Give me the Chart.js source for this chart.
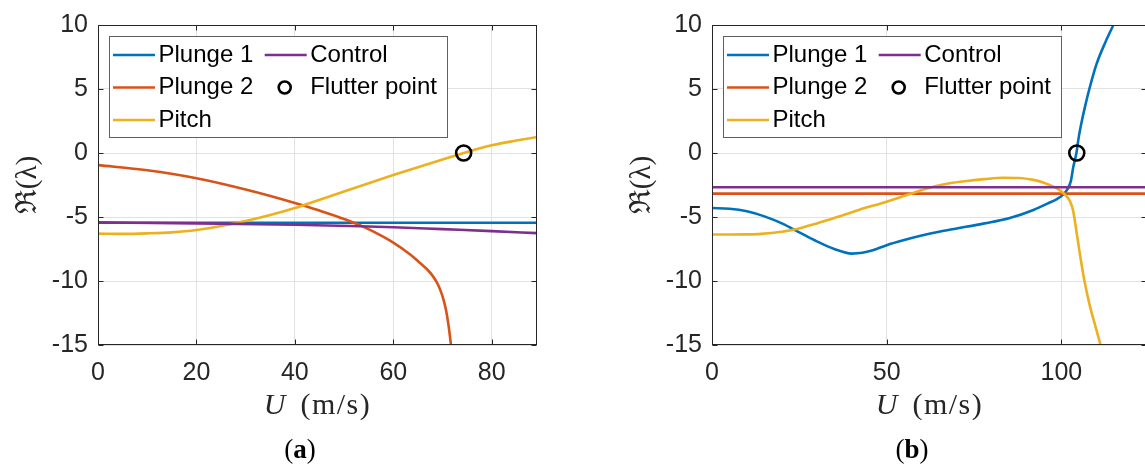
<!DOCTYPE html>
<html>
<head>
<meta charset="utf-8">
<title>Flutter eigenvalues</title>
<script src="https://cdn.jsdelivr.net/npm/chart.js@4.4.1/dist/chart.umd.min.js"></script>
<style>
    html, body { margin: 0; padding: 0; background: #fff; width: 1145px; height: 466px; overflow: hidden; }
    .panel { position: absolute; top: 0; height: 440px; }
    #panelA { left: 0; width: 560px; }
    #panelB { left: 585px; width: 575px; }
    .caption { position: absolute; top: 434px; line-height: 30px; font-family: "Liberation Serif", serif; font-size: 27px; color: #000; transform: translateX(-50%); }
</style>
</head>
<body>
<div class="panel" id="panelA"><canvas id="chartA"></canvas></div>
<div class="panel" id="panelB"><canvas id="chartB"></canvas></div>
<div class="caption" style="left:300px">(<b>a</b>)</div>
<div class="caption" style="left:912px">(<b>b</b>)</div>
<script>
// Eixos comuns
const yTicks = [-15, -10, -5, 0, 5, 10];
const legendRows = [['Plunge 1', 'Control'], ['Plunge 2', 'Flutter point'], ['Pitch', null]];

// ---- painel (a) ----
const ticksA_U = [0, 20, 40, 60, 80];
const plunge1A_U = [0, 89.2];
const plunge1A_Re = [-5.45, -5.45];
const plunge2A_U = [0, 10, 20, 30, 40, 45, 50, 53.3, 56, 60, 63.5, 65.3, 66.9, 68.0, 68.9, 69.6, 70.2, 70.7, 71.2, 71.6, 72.0];
const plunge2A_Re = [-0.95, -1.35, -1.97, -2.85, -3.9, -4.5, -5.15, -5.65, -6.15, -7.0, -7.95, -8.55, -9.1, -9.6, -10.15, -10.75, -11.45, -12.25, -13.4, -14.6, -16.0];
const pitchA_U = [0, 5, 10, 15, 20, 25, 28, 30, 35, 40, 42, 50, 60, 70, 74.3, 80, 85, 89.2];
const pitchA_Re = [-6.3, -6.32, -6.28, -6.2, -6.02, -5.7, -5.48, -5.32, -4.85, -4.3, -4.05, -3.0, -1.72, -0.5, 0.0, 0.6, 0.97, 1.25];
const controlA_U = [0, 20, 40, 53.3, 60, 70, 80, 89.2];
const controlA_Re = [-5.42, -5.5, -5.6, -5.72, -5.8, -5.95, -6.1, -6.26];
const flutterA = [74.3, 0];

// ---- painel (b) ----
const ticksB_U = [0, 50, 100];
const plunge1B_U = [0, 5, 10, 15, 20, 25, 30, 35, 40, 43, 46, 50, 55, 60, 65, 70, 78, 85, 92, 96, 98.7, 100.5, 101.7, 102.7, 103.4, 104.3, 105, 106, 107, 108, 110, 112.5, 114.9, 116];
const plunge1B_Re = [-4.3, -4.35, -4.55, -4.95, -5.5, -6.2, -6.9, -7.5, -7.86, -7.8, -7.6, -7.2, -6.8, -6.45, -6.15, -5.9, -5.5, -5.1, -4.45, -3.95, -3.6, -3.25, -2.85, -2.2, -1.1, 0, 1.3, 2.7, 3.9, 5.0, 6.9, 8.6, 10, 10.6];
const plunge2B_U = [0, 124.5];
const plunge2B_Re = [-3.17, -3.17];
const pitchB_U = [0, 5, 10, 14, 20, 23.2, 30, 35, 42, 50, 58.6, 63.3, 68, 72.9, 78, 83.4, 88, 92, 95, 97.7, 99.5, 101, 102.5, 103.4, 104.4, 105.3, 106.6, 108.2, 109.8, 111.2, 112];
const pitchB_Re = [-6.37, -6.37, -6.36, -6.32, -6.15, -6.0, -5.5, -5.08, -4.45, -3.8, -3.02, -2.63, -2.37, -2.19, -2.04, -1.93, -1.95, -2.1, -2.32, -2.63, -2.9, -3.25, -3.79, -4.56, -6.3, -7.9, -10, -12, -13.6, -15, -15.8];
const controlB_U = [0, 124.5];
const controlB_Re = [-2.68, -2.68];
const flutterB = [104.4, 0];

const COLORS = { plunge1: '#0072BD', plunge2: '#D95319', pitch: '#EDB120', control: '#7E2F8E' };
const AXIS_COLOR = '#262626';

Chart.defaults.font.family = '"Liberation Sans", Arial, sans-serif';

function zip(xs, ys) {
    return xs.map((x, i) => ({ x: x, y: ys[i] }));
}

function lineSet(label, xs, ys, color, order) {
    return {
        label: label,
        data: zip(xs, ys),
        borderColor: color,
        backgroundColor: color,
        borderWidth: 2.6,
        pointRadius: 0,
        cubicInterpolationMode: 'monotone',
        order: order
    };
}

// Moldura estilo MATLAB: caixa, ticks internos, legenda e títulos dos eixos
const figurePlugin = {
    id: 'figure',
    afterDatasetsDraw(chart) {
        const { ctx, chartArea: area } = chart;
        const xs = chart.scales.x, ys = chart.scales.y;
        const L = Math.round(area.left) + 0.5, R = Math.round(area.right) - 0.5;
        const T = Math.round(area.top) + 0.5, B = Math.round(area.bottom) - 0.5;

        ctx.save();
        ctx.strokeStyle = AXIS_COLOR;
        ctx.lineWidth = 1;
        ctx.beginPath();
        xs.ticks.forEach(t => {
            const px = Math.round(xs.getPixelForValue(t.value)) + 0.5;
            ctx.moveTo(px, B); ctx.lineTo(px, B - 5);
            ctx.moveTo(px, T); ctx.lineTo(px, T + 5);
        });
        ys.ticks.forEach(t => {
            const py = Math.round(ys.getPixelForValue(t.value)) + 0.5;
            ctx.moveTo(L, py); ctx.lineTo(L + 5, py);
            ctx.moveTo(R, py); ctx.lineTo(R - 5, py);
        });
        ctx.stroke();
        ctx.strokeRect(L, T, R - L, B - T);

        // legenda
        const bx = Math.round(area.left + 11), by = Math.round(area.top + 11), bw = 338, bh = 101;
        ctx.fillStyle = '#fff';
        ctx.fillRect(bx, by, bw, bh);
        ctx.strokeStyle = '#606060';
        ctx.strokeRect(bx + 0.5, by + 0.5, bw, bh);
        ctx.font = '24px "Liberation Sans"';
        ctx.textBaseline = 'middle';
        const colX = [4, 155.7];
        legendRows.forEach((row, r) => {
            row.forEach((label, c) => {
                if (!label) return;
                const ds = chart.data.datasets.find(d => d.label === label);
                const cy = by + 19 + r * 32.5;
                const x0 = bx + colX[c];
                if (ds.showLine === false) {
                    ctx.beginPath();
                    ctx.lineWidth = ds.pointBorderWidth;
                    ctx.strokeStyle = ds.pointBorderColor;
                    ctx.arc(x0 + 20, cy, 6, 0, Math.PI * 2);
                    ctx.stroke();
                } else {
                    ctx.beginPath();
                    ctx.lineWidth = ds.borderWidth;
                    ctx.strokeStyle = ds.borderColor;
                    ctx.moveTo(x0, cy); ctx.lineTo(x0 + 42, cy);
                    ctx.stroke();
                }
                ctx.fillStyle = '#000';
                ctx.fillText(label, x0 + 45.5, cy);
            });
        });
        ctx.restore();
    },
    afterDraw(chart) {
        const { ctx, chartArea: area } = chart;
        ctx.save();
        ctx.fillStyle = AXIS_COLOR;

        // título y
        ctx.translate(area.left - 70, (area.top + area.bottom) / 2);
        ctx.rotate(-Math.PI / 2);
        ctx.font = '29px "Liberation Serif", "DejaVu Serif"';
        ctx.textAlign = 'center';
        ctx.textBaseline = 'middle';
        ctx.fillText('ℜ(λ)', 0, 0);
        ctx.setTransform(1, 0, 0, 1, 0, 0);

        // título x: U itálico + (m/s)
        const italic = 'italic 30px "Liberation Serif"';
        const upright = '30px "Liberation Serif"';
        ctx.textAlign = 'left';
        ctx.textBaseline = 'alphabetic';
        ctx.font = italic;
        const wU = ctx.measureText('U').width;
        ctx.font = upright;
        ctx.letterSpacing = '1.5px';
        const wUnit = ctx.measureText('(m/s)').width;
        const gap = 15;
        const x0 = (area.left + area.right) / 2 - (wU + gap + wUnit) / 2;
        ctx.letterSpacing = '0px';
        ctx.font = italic;
        ctx.fillText('U', x0, 414);
        ctx.font = upright;
        ctx.letterSpacing = '1.5px';
        ctx.fillText('(m/s)', x0 + wU + gap, 414);
        ctx.restore();
    }
};

function makePanel(canvasId, datasets, xMax, xTicks, yAxisWidth, padRight) {
    const tickFont = { family: '"Liberation Sans"', size: 25 };
    return new Chart(document.getElementById(canvasId), {
        type: 'line',
        data: { datasets: datasets },
        options: {
            responsive: true,
            maintainAspectRatio: false,
            animation: false,
            layout: { padding: { left: 0, right: padRight, top: 21, bottom: 0 } },
            plugins: { legend: { display: false }, tooltip: { enabled: false } },
            scales: {
                x: {
                    type: 'linear', min: 0, max: xMax,
                    afterBuildTicks: s => { s.ticks = xTicks.map(v => ({ value: v })); },
                    afterFit: s => { s.height = 95; },
                    grid: { color: '#e2e2e2', drawTicks: false },
                    border: { display: false },
                    ticks: { font: tickFont, color: AXIS_COLOR, padding: 13, maxRotation: 0 }
                },
                y: {
                    type: 'linear', min: -15, max: 10,
                    afterBuildTicks: s => { s.ticks = yTicks.map(v => ({ value: v })); },
                    afterFit: s => { s.width = yAxisWidth; },
                    grid: { color: '#e2e2e2', drawTicks: false },
                    border: { display: false },
                    ticks: { font: tickFont, color: AXIS_COLOR, padding: 10 }
                }
            }
        },
        plugins: [figurePlugin]
    });
}

function flutterSet(point) {
    return {
        label: 'Flutter point',
        data: [{ x: point[0], y: point[1] }],
        showLine: false,
        pointRadius: 7.5,
        pointBorderWidth: 2.6,
        pointBorderColor: '#000',
        pointBackgroundColor: 'rgba(0,0,0,0)',
        order: 0
    };
}

makePanel('chartA', [
    lineSet('Plunge 1', plunge1A_U, plunge1A_Re, COLORS.plunge1, 5),
    lineSet('Plunge 2', plunge2A_U, plunge2A_Re, COLORS.plunge2, 4),
    lineSet('Pitch', pitchA_U, pitchA_Re, COLORS.pitch, 3),
    lineSet('Control', controlA_U, controlA_Re, COLORS.control, 2),
    flutterSet(flutterA)
], 89.2, ticksA_U, 98, 23);

makePanel('chartB', [
    lineSet('Plunge 1', plunge1B_U, plunge1B_Re, COLORS.plunge1, 5),
    lineSet('Plunge 2', plunge2B_U, plunge2B_Re, COLORS.plunge2, 4),
    lineSet('Pitch', pitchB_U, pitchB_Re, COLORS.pitch, 3),
    lineSet('Control', controlB_U, controlB_Re, COLORS.control, 2),
    flutterSet(flutterB)
], 124.5, ticksB_U, 127, 13);
</script>
</body>
</html>
